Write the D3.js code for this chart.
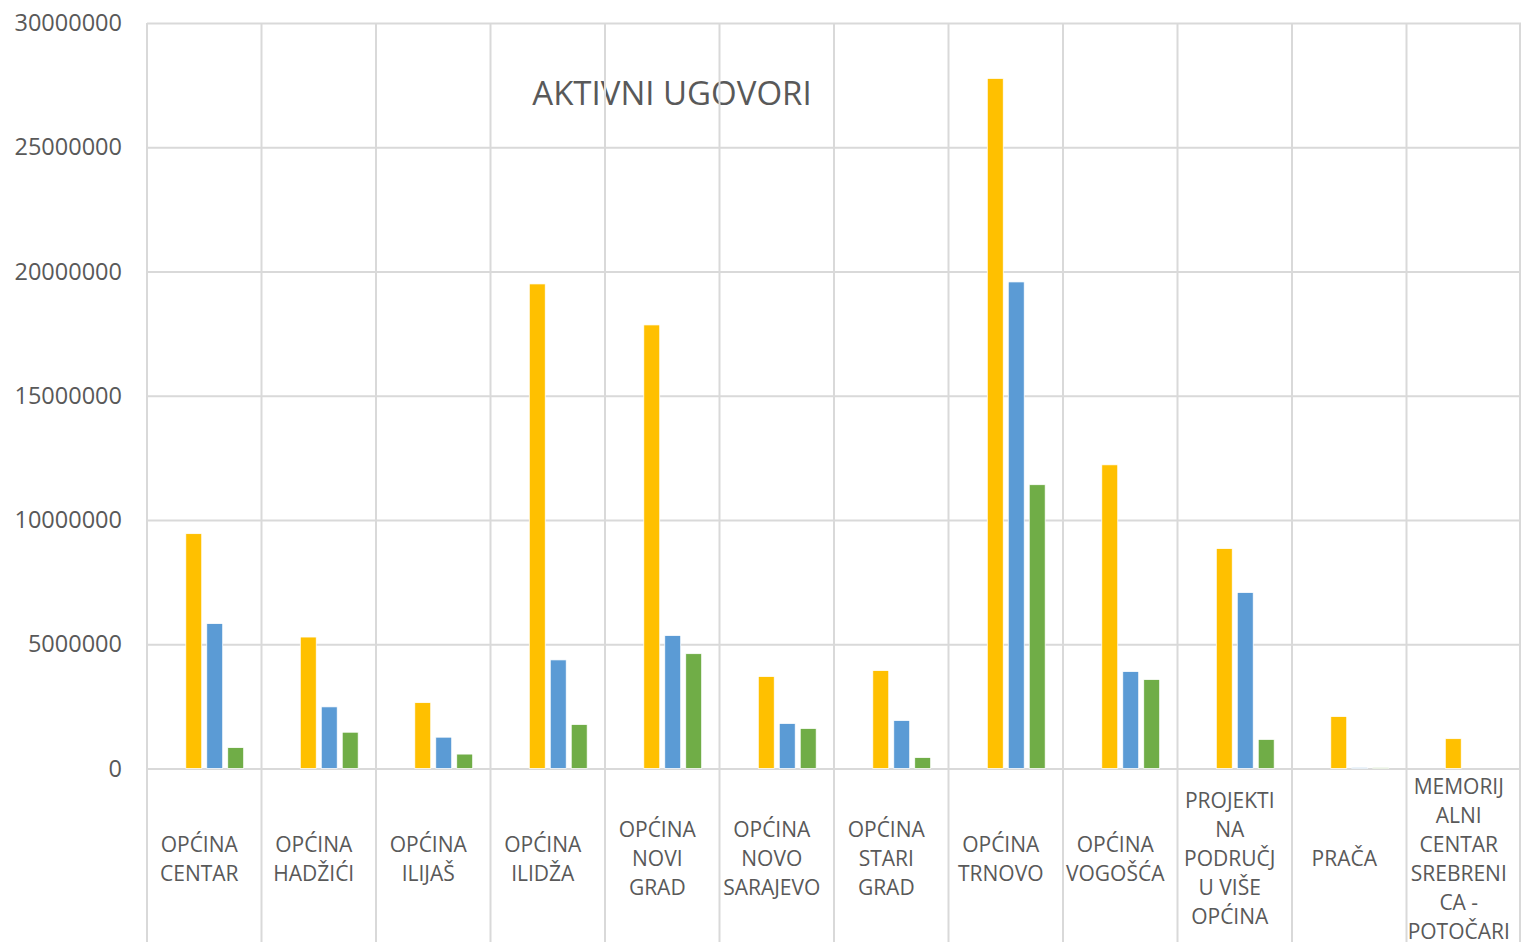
<!DOCTYPE html>
<html>
<head>
<meta charset="utf-8">
<script src="https://cdn.jsdelivr.net/npm/d3@7"></script>
<style>
    body { margin: 0; background: #fff; }
    svg { display: block; font-family: "Open Sans", "Noto Sans", sans-serif; }
</style>
</head>
<body>
<svg id="chart" width="1521" height="942"></svg>
<script>
// kategorije (općine) i prelomljene oznake ispod osi
const kategorije = ["OPĆINA CENTAR", "OPĆINA HADŽIĆI", "OPĆINA ILIJAŠ", "OPĆINA ILIDŽA",
    "OPĆINA NOVI GRAD", "OPĆINA NOVO SARAJEVO", "OPĆINA STARI GRAD", "OPĆINA TRNOVO",
    "OPĆINA VOGOŠĆA", "PROJEKTI NA PODRUČJU VIŠE OPĆINA", "PRAČA", "MEMORIJALNI CENTAR SREBRENICA - POTOČARI"];
const oznake = [
    ["OPĆINA", "CENTAR"], ["OPĆINA", "HADŽIĆI"], ["OPĆINA", "ILIJAŠ"], ["OPĆINA", "ILIDŽA"],
    ["OPĆINA", "NOVI", "GRAD"], ["OPĆINA", "NOVO", "SARAJEVO"], ["OPĆINA", "STARI", "GRAD"],
    ["OPĆINA", "TRNOVO"], ["OPĆINA", "VOGOŠĆA"], ["PROJEKTI", "NA", "PODRUČJ", "U VIŠE", "OPĆINA"],
    ["PRAČA"], ["MEMORIJ", "ALNI", "CENTAR", "SREBRENI", "CA -", "POTOČARI"]
];

// vrijednosti serija (procijenjeno sa slike)
const serijaZuta = [9450000, 5290000, 2650000, 19500000, 17850000, 3700000, 3940000, 27770000, 12220000, 8850000, 2090000, 1200000];
const serijaPlava = [5830000, 2480000, 1260000, 4370000, 5350000, 1810000, 1930000, 19580000, 3900000, 7080000, 40000, 0];
const serijaZelena = [840000, 1460000, 580000, 1770000, 4620000, 1610000, 440000, 11420000, 3580000, 1170000, 30000, 0];

const yTicks = [0, 5000000, 10000000, 15000000, 20000000, 25000000, 30000000];
const naslov = "AKTIVNI UGOVORI";

let serije = [
    {key: "zuta", values: serijaZuta, color: "#FFC000"},
    {key: "plava", values: serijaPlava, color: "#5B9BD5"},
    {key: "zelena", values: serijaZelena, color: "#70AD47"}
];

let svg = d3.select("#chart");
let margin = {top: 23, left: 147, right: 0, bottom: 173};
let width = 1521, height = 942;
let plotBottom = height - margin.bottom - 0.5;

let x0 = d3.scaleBand().domain(kategorije).range([margin.left, width - margin.right]).padding(0);
// prvo mjesto u grupi je prazno (kao u originalu)
let x1 = d3.scaleBand().domain(["prazno", "zuta", "plava", "zelena"])
    .range([0, x0.bandwidth()]).paddingInner(0.24).paddingOuter(0.85);
let y = d3.scaleLinear().domain([0, 30000000]).range([plotBottom, margin.top]);

// naslov
svg.append("text")
    .attr("x", 672)
    .attr("y", 105)
    .attr("text-anchor", "middle")
    .attr("fill", "#595959")
    .style("font-size", "33px")
    .text(naslov);

// horizontalna mreža + oznake y osi
let yAxis = d3.axisLeft(y).tickValues(yTicks).tickFormat(d3.format("d"))
    .tickSize(-(width - margin.right - margin.left)).tickPadding(25);

let gy = svg.append("g")
    .attr("transform", "translate(" + margin.left + ",0)")
    .call(yAxis);
gy.select(".domain").remove();
gy.selectAll("line").attr("stroke", "#d9d9d9").attr("stroke-width", 2);
gy.selectAll("text").attr("fill", "#595959").style("font-size", "23.5px")
    .style("font-family", "'Open Sans', 'Noto Sans', sans-serif");

// vertikalne linije između kategorija
let granice = kategorije.map(k => x0(k)).concat([x0.range()[1] - 1]);
svg.append("g").selectAll("line")
    .data(granice)
    .enter()
    .append("line")
    .attr("x1", d => d)
    .attr("x2", d => d)
    .attr("y1", margin.top)
    .attr("y2", height)
    .attr("stroke", "#d9d9d9")
    .attr("stroke-width", 2);

// stupci
let grupe = svg.append("g").selectAll("g")
    .data(kategorije)
    .enter()
    .append("g")
    .attr("transform", d => "translate(" + x0(d) + ",0)");

grupe.selectAll("rect")
    .data((d, i) => serije.map(s => ({key: s.key, value: s.values[i], color: s.color})))
    .enter()
    .append("rect")
    .attr("x", d => x1(d.key))
    .attr("width", x1.bandwidth())
    .attr("y", d => y(d.value))
    .attr("height", d => y(0) - y(d.value))
    .attr("fill", d => d.color)
    .attr("stroke", "#fff")
    .attr("stroke-width", 0.75);

// oznake kategorija
let lineH = 29;
let labels = svg.append("g").selectAll("text")
    .data(kategorije)
    .enter()
    .append("text")
    .attr("text-anchor", "middle")
    .attr("fill", "#595959")
    .style("font-size", "21px");

labels.each(function (d, i) {
    let lines = oznake[i];
    let cx = x0(d) + x0.bandwidth() / 2 - 5;
    let startY = 859 - (lines.length - 1) * lineH / 2 + 7;
    d3.select(this).selectAll("tspan")
        .data(lines)
        .enter()
        .append("tspan")
        .attr("x", cx)
        .attr("y", (l, j) => startY + j * lineH)
        .text(l => l);
});
</script>
</body>
</html>
